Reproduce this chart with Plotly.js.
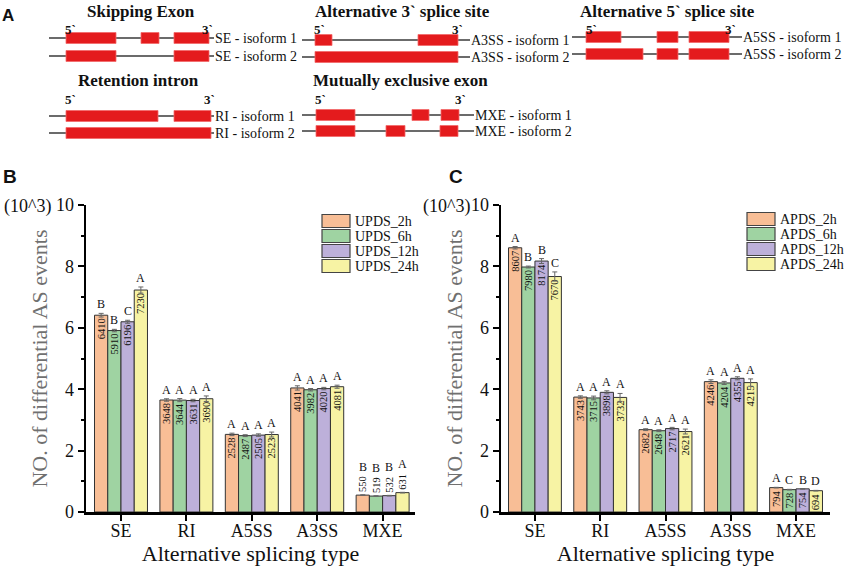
<!DOCTYPE html>
<html><head><meta charset="utf-8">
<script src="https://cdn.plot.ly/plotly-3.0.1.min.js"></script>
<style>html,body{margin:0;padding:0;background:#fff}#chart{width:844px;height:573px}</style>
</head><body><div id="chart"></div>
<script>
// ---------------- DATA ----------------
const categories = ['SE', 'RI', 'A5SS', 'A3SS', 'MXE'];

const updsNames = ['UPDS_2h', 'UPDS_6h', 'UPDS_12h', 'UPDS_24h'];
const upds2h  = [6410, 3648, 2528, 4041, 550];
const upds6h  = [5910, 3644, 2487, 3982, 519];
const upds12h = [6196, 3631, 2505, 4020, 532];
const upds24h = [7230, 3690, 2523, 4081, 631];
const upds2hErr  = [60, 40, 40, 70, 10];
const upds6hErr  = [40, 50, 30, 40, 10];
const upds12hErr = [50, 40, 40, 40, 10];
const upds24hErr = [100, 90, 80, 50, 10];
const upds2hSig  = ['B', 'A', 'A', 'A', 'B'];
const upds6hSig  = ['B', 'A', 'A', 'A', 'B'];
const upds12hSig = ['C', 'A', 'A', 'A', 'B'];
const upds24hSig = ['A', 'A', 'A', 'A', 'A'];

const apdsNames = ['APDS_2h', 'APDS_6h', 'APDS_12h', 'APDS_24h'];
const apds2h  = [8607, 3743, 2682, 4246, 794];
const apds6h  = [7980, 3715, 2648, 4204, 728];
const apds12h = [8174, 3898, 2717, 4355, 754];
const apds24h = [7670, 3732, 2621, 4215, 694];
const apds2hErr  = [40, 40, 30, 60, 10];
const apds6hErr  = [30, 60, 30, 50, 10];
const apds12hErr = [80, 50, 40, 50, 10];
const apds24hErr = [150, 130, 80, 120, 10];
const apds2hSig  = ['A', 'A', 'A', 'A', 'A'];
const apds6hSig  = ['B', 'A', 'A', 'A', 'C'];
const apds12hSig = ['B', 'A', 'A', 'A', 'B'];
const apds24hSig = ['C', 'A', 'A', 'A', 'D'];

// Panel A schematic (exon coordinates in schematic units)
const schematicTitles = ['Skipping Exon', 'Alternative 3` splice site', 'Alternative 5` splice site', 'Retention intron', 'Mutually exclusive exon'];
const isoformLabels = ['SE - isoform 1', 'SE - isoform 2', 'A3SS - isoform 1', 'A3SS - isoform 2', 'A5SS - isoform 1', 'A5SS - isoform 2', 'RI - isoform 1', 'RI - isoform 2', 'MXE - isoform 1', 'MXE - isoform 2'];
const isoformExons = [
  [[66,116],[141,159],[174,209]],
  [[66,116],[174,209]],
  [[315,332],[418,458]],
  [[315,458]],
  [[586,621],[657,678],[689,729]],
  [[586,643],[657,678],[689,729]],
  [[66,158],[174,211]],
  [[66,211]],
  [[316,355],[412,429],[441,459]],
  [[316,355],[386,405],[440,458]]
];
const isoformSpans = [[49,214],[49,214],[302,470],[302,470],[572,742],[572,742],[49,214],[49,214],[302,474],[302,474]];
const isoformRows = [38, 56, 40, 57, 37, 54, 116, 133, 115, 131];

// ---------------- STYLE / LAYOUT ----------------
const W = 844, H = 573;
const px = x => x / W;
const py = y => 1 - y / H;
const SERIF = 'Liberation Serif, Times New Roman, serif';
const SANS = 'Liberation Sans, Arial, sans-serif';
const colors = ['#F8BE96', '#9FD3A2', '#BDB0DA', '#F7F3A4'];
const bargap = 0.19;
const barW = (1 - bargap) / 4;

const traces = [];
const annotations = [];
const shapes = [];

function addPanel(vals, errs, sigs, names, xa, ya) {
  vals.forEach((v, j) => {
    const pos = v.map(d => d >= 650 ? 'inside' : 'outside');
    traces.push({
      type: 'bar', x: categories, y: v.map(d => d / 1000),
      xaxis: xa, yaxis: ya, name: names[j], showlegend: false,
      marker: { color: colors[j], line: { color: '#333', width: 1 } },
      error_y: { type: 'data', array: errs[j].map(e => e / 1000), color: '#666', thickness: 1, width: 2.5 },
      text: v.map(String), textposition: pos, textangle: -90,
      insidetextanchor: 'end', constraintext: 'none', cliponaxis: false,
      textfont: { family: SERIF, size: 10.5, color: '#111' },
      hoverinfo: 'skip'
    });
    v.forEach((d, i) => {
      annotations.push({
        xref: xa, yref: ya, x: i + (j - 1.5) * barW, y: (d + errs[j][i]) / 1000,
        text: sigs[j][i], showarrow: false, yanchor: 'bottom',
        yshift: pos[i] === 'outside' ? 19 : 0,
        font: { family: SERIF, size: 12, color: '#111' }
      });
    });
  });
}

addPanel([upds2h, upds6h, upds12h, upds24h], [upds2hErr, upds6hErr, upds12hErr, upds24hErr],
         [upds2hSig, upds6hSig, upds12hSig, upds24hSig], updsNames, 'x', 'y');
addPanel([apds2h, apds6h, apds12h, apds24h], [apds2hErr, apds6hErr, apds12hErr, apds24hErr],
         [apds2hSig, apds6hSig, apds12hSig, apds24hSig], apdsNames, 'x2', 'y2');

// custom legends
function addLegend(names, x0, rows) {
  names.forEach((n, j) => {
    shapes.push({ type: 'rect', xref: 'paper', yref: 'paper',
      x0: px(x0), x1: px(x0 + 28), y0: py(rows[j] - 6.5), y1: py(rows[j] + 6.5),
      fillcolor: colors[j], line: { color: '#444', width: 1.2 } });
    annotations.push({ xref: 'paper', yref: 'paper', x: px(x0 + 31), y: py(rows[j]),
      xanchor: 'left', yanchor: 'middle', text: n, showarrow: false,
      font: { family: SERIF, size: 14, color: '#111' } });
  });
}
addLegend(updsNames, 322, [221, 236, 251, 266]);
addLegend(apdsNames, 747, [219, 234, 249, 264]);

// panel labels & units
[['B', 10, 177], ['C', 456, 177]].forEach(([t, x, y]) => annotations.push({
  xref: 'paper', yref: 'paper', x: px(x), y: py(y), text: '<b>' + t + '</b>', showarrow: false,
  xanchor: 'center', yanchor: 'middle', font: { family: SANS, size: 19, color: '#111' } }));
[2, 421].forEach(x => annotations.push({
  xref: 'paper', yref: 'paper', x: px(x), y: py(206), text: '(10^3)', showarrow: false,
  xanchor: 'left', yanchor: 'middle', font: { family: SERIF, size: 18, color: '#111' } }));
annotations.push({ xref: 'paper', yref: 'paper', x: px(8), y: py(16), text: '<b>A</b>', showarrow: false,
  xanchor: 'center', yanchor: 'middle', font: { family: SANS, size: 17, color: '#111' } });

// Panel A schematic on its own hidden axes
const titlePos = [[141, 11], [402, 11], [667, 11], [138, 80], [400, 80]];
schematicTitles.forEach((t, k) => annotations.push({ xref: 'x3', yref: 'y3',
  x: titlePos[k][0], y: titlePos[k][1], text: '<b>' + t + '</b>', showarrow: false,
  xanchor: 'center', yanchor: 'middle', font: { family: SERIF, size: 17, color: '#111' } }));
const primePos = [[70, 207, 29], [319, 457, 29], [591, 730, 29], [70, 209, 99], [320, 460, 99]];
primePos.forEach(([a, b, y]) => {
  annotations.push({ xref: 'x3', yref: 'y3', x: a, y: y, text: '<b>5`</b>', showarrow: false, font: { family: SERIF, size: 13, color: '#111' } });
  annotations.push({ xref: 'x3', yref: 'y3', x: b, y: y, text: '<b>3`</b>', showarrow: false, font: { family: SERIF, size: 13, color: '#111' } });
});
isoformLabels.forEach((lab, k) => {
  const y = isoformRows[k];
  shapes.push({ type: 'line', xref: 'x3', yref: 'y3', x0: isoformSpans[k][0], x1: isoformSpans[k][1], y0: y, y1: y,
    line: { color: '#3a3a3a', width: 1.5 } });
  isoformExons[k].forEach(([a, b]) => shapes.push({ type: 'rect', xref: 'x3', yref: 'y3',
    x0: a, x1: b, y0: y - 5.5, y1: y + 5.5, fillcolor: '#E41B1D', line: { color: '#F26A6A', width: 0.8 } }));
  annotations.push({ xref: 'x3', yref: 'y3', x: isoformSpans[k][1], y: y, text: lab, showarrow: false,
    xanchor: 'left', yanchor: 'middle', borderpad: 0, font: { family: SERIF, size: 14, color: '#111' } });
});

const xBase = {
  type: 'category', showline: true, linecolor: '#000', linewidth: 2.5,
  ticks: 'outside', ticklen: 6, tickwidth: 2, tickcolor: '#000', ticklabelstandoff: -5,
  tickfont: { family: SERIF, size: 18, color: '#111' }, showgrid: false, zeroline: false,
  title: { text: 'Alternative splicing type', font: { family: SERIF, size: 22, color: '#111' }, standoff: 4 },
  fixedrange: true
};
const yBase = {
  range: [0, 10], dtick: 2, showline: true, linecolor: '#000', linewidth: 2.5,
  ticks: 'outside', ticklen: 6, tickwidth: 2, tickcolor: '#000',
  minor: { dtick: 1, ticks: 'outside', ticklen: 3, tickwidth: 2, tickcolor: '#000' },
  tickfont: { family: SERIF, size: 18, color: '#111' }, showgrid: false, zeroline: false,
  title: { text: 'NO. of differential AS events', font: { family: SERIF, size: 22, color: '#707070' }, standoff: 2 },
  domain: [py(512), py(205)], fixedrange: true
};

const layout = {
  width: W, height: H, margin: { l: 0, r: 0, t: 0, b: 0 },
  paper_bgcolor: '#fff', plot_bgcolor: 'rgba(0,0,0,0)',
  barmode: 'group', bargap: bargap, bargroupgap: 0, showlegend: false,
  xaxis: Object.assign({}, xBase, { domain: [px(86), px(415)], range: [-0.535, 4.495], anchor: 'y' }),
  yaxis: Object.assign({}, yBase, { anchor: 'x' }),
  xaxis2: Object.assign({}, xBase, { domain: [px(501), px(830)], range: [-0.52, 4.52], anchor: 'y2' }),
  yaxis2: Object.assign({}, yBase, { anchor: 'x2' }),
  xaxis3: { domain: [0, 1], range: [0, W], visible: false, fixedrange: true, anchor: 'y3' },
  yaxis3: { domain: [py(150), 1], range: [150, 0], visible: false, fixedrange: true, anchor: 'x3' },
  annotations: annotations, shapes: shapes,
  font: { family: SERIF }
};

Plotly.newPlot('chart', traces, layout, { staticPlot: true, displayModeBar: false });
</script></body></html>
